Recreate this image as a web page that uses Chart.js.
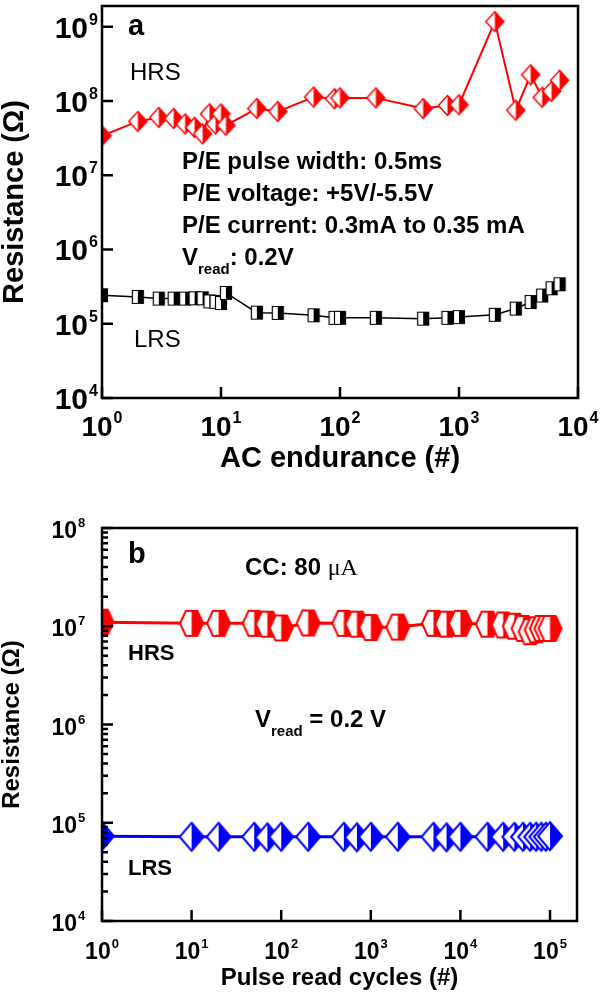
<!DOCTYPE html>
<html>
<head>
<meta charset="utf-8">
<script src="https://cdn.jsdelivr.net/npm/chart.js@4.4.1/dist/chart.umd.min.js"></script>
<style>
html, body { margin: 0; padding: 0; background: #fff; }
#wrap { position: relative; width: 600px; height: 994px; }
canvas { position: absolute; left: 0; }
#chartA { top: 0; }
#chartB { top: 497px; }
</style>
</head>
<body>
<div id="wrap">
    <canvas id="chartA" width="600" height="497"></canvas>
    <canvas id="chartB" width="600" height="497"></canvas>
</div>
<script>
// panel a - AC endurance
const cyclesA = [1, 2, 3, 4, 5, 6, 7, 8, 9, 10, 11, 20, 30, 60, 90, 100, 200, 500, 800, 1000, 2000, 3000, 4000, 5000, 6000, 7000];
const hrsA = [3.4e7, 5.3e7, 6.0e7, 5.8e7, 4.9e7, 4.4e7, 3.6e7, 6.7e7, 4.9e7, 6.7e7, 4.7e7, 7.9e7, 7.2e7, 1.13e8, 1.07e8, 1.1e8, 1.1e8, 7.9e7, 8.7e7, 8.9e7, 1.17e9, 7.5e7, 2.25e8, 1.12e8, 1.35e8, 1.9e8];
const lrsA = [2.42e5, 2.3e5, 2.18e5, 2.18e5, 2.18e5, 2.2e5, 2.2e5, 2.0e5, 1.97e5, 1.9e5, 2.6e5, 1.41e5, 1.4e5, 1.3e5, 1.2e5, 1.2e5, 1.2e5, 1.17e5, 1.2e5, 1.23e5, 1.32e5, 1.6e5, 1.96e5, 2.4e5, 3.0e5, 3.4e5];
const aXExps = [0, 1, 2, 3, 4];
const aYExps = [4, 5, 6, 7, 8, 9];

// panel b - pulse read
const cyclesB = [1, 10, 20, 50, 70, 100, 200, 500, 700, 1000, 2000, 5000, 7000, 1e4, 2e4, 3e4, 4e4, 5e4, 6e4, 7e4, 8e4, 9e4, 1e5];
const hrsB = [1.1e7, 1.07e7, 1.07e7, 1.07e7, 1.05e7, 9.6e6, 1.08e7, 1.07e7, 1.05e7, 9.7e6, 9.8e6, 1.07e7, 1.05e7, 1.07e7, 1.05e7, 1.03e7, 1.0e7, 9.5e6, 8.8e6, 9.2e6, 9.5e6, 9.5e6, 9.5e6];
const lrsB = [7.3e4, 7.2e4, 7.2e4, 7.2e4, 7.1e4, 7.2e4, 7.2e4, 7.2e4, 7.1e4, 7.2e4, 7.2e4, 7.2e4, 7.1e4, 7.2e4, 7.2e4, 7.2e4, 7.2e4, 7.2e4, 7.2e4, 7.2e4, 7.2e4, 7.2e4, 7.3e4];
const bXExps = [0, 1, 2, 3, 4, 5];
const bYExps = [4, 5, 6, 7, 8];

const FONT = '"Liberation Sans", Arial, sans-serif';
const SERIF = '"Liberation Serif", "Times New Roman", serif';

// half filled markers: left half white, right half coloured
function makeMarker(shape, w, h, color, lw) {
    const c = document.createElement('canvas');
    c.width = Math.ceil(w + lw * 2);
    c.height = Math.ceil(h + lw * 2);
    const g = c.getContext('2d');
    const cx = c.width / 2, cy = c.height / 2;
    const path = () => {
        g.beginPath();
        if (shape === 'diamond') {
            g.moveTo(cx, cy - h / 2); g.lineTo(cx + w / 2, cy);
            g.lineTo(cx, cy + h / 2); g.lineTo(cx - w / 2, cy);
        } else if (shape === 'square') {
            g.rect(cx - w / 2, cy - h / 2, w, h);
        } else {
            g.moveTo(cx - w / 2, cy); g.lineTo(cx - w / 4, cy - h / 2);
            g.lineTo(cx + w / 4, cy - h / 2); g.lineTo(cx + w / 2, cy);
            g.lineTo(cx + w / 4, cy + h / 2); g.lineTo(cx - w / 4, cy + h / 2);
        }
        g.closePath();
    };
    path(); g.fillStyle = '#fff'; g.fill();
    g.save();
    g.beginPath(); g.rect(cx, 0, c.width, c.height); g.clip();
    path(); g.fillStyle = color; g.fill();
    g.restore();
    path(); g.strokeStyle = color; g.lineWidth = lw; g.lineJoin = 'miter'; g.stroke();
    return c;
}

function toPoints(xs, ys) {
    return xs.map((x, i) => ({ x: x, y: ys[i] }));
}

function drawSup(ctx, base, sup, x, y, baseFont, supFont, raise, align) {
    ctx.font = baseFont;
    const bw = ctx.measureText(base).width;
    ctx.font = supFont;
    const sw = ctx.measureText(sup).width;
    let x0 = x;
    if (align === 'center') x0 = x - (bw + 1 + sw) / 2;
    if (align === 'right') x0 = x - bw;
    ctx.textAlign = 'left';
    ctx.font = baseFont;
    ctx.fillText(base, x0, y);
    ctx.font = supFont;
    ctx.fillText(sup, x0 + bw + 1, y - raise);
}

// frame, inward ticks, power-of-ten labels, annotations
const decor = {
    id: 'decor',
    afterDraw(chart, args, o) {
        const { ctx, chartArea: ca, scales: { x, y } } = chart;
        ctx.save();
        ctx.strokeStyle = '#000';
        ctx.fillStyle = '#000';
        ctx.lineWidth = o.tickWidth;
        ctx.beginPath();
        y.ticks.forEach(t => {
            const py = y.getPixelForValue(t.value);
            ctx.moveTo(ca.left, py); ctx.lineTo(ca.left + o.tickLen, py);
            if (o.minorY) {
                for (let m = 2; m < 10; m++) {
                    const v = t.value * m;
                    if (v > y.max) break;
                    const my = y.getPixelForValue(v);
                    ctx.moveTo(ca.left, my); ctx.lineTo(ca.left + o.minorLen, my);
                }
            }
        });
        x.ticks.forEach(t => {
            const px = x.getPixelForValue(t.value);
            ctx.moveTo(px, ca.bottom); ctx.lineTo(px, ca.bottom - o.tickLen);
        });
        ctx.stroke();

        ctx.lineWidth = o.frame;
        ctx.strokeRect(ca.left, ca.top, ca.right - ca.left, ca.bottom - ca.top);

        ctx.textBaseline = 'alphabetic';
        y.ticks.forEach(t => {
            const py = y.getPixelForValue(t.value);
            drawSup(ctx, '10', String(Math.round(Math.log10(t.value))), o.yLabelRight, py + o.yLabelDy,
                o.tickFont, o.supFont, o.raise, 'right');
        });
        x.ticks.forEach(t => {
            const px = x.getPixelForValue(t.value);
            drawSup(ctx, '10', String(Math.round(Math.log10(t.value))), px, ca.bottom + o.xLabelDy,
                o.xTickFont || o.tickFont, o.xSupFont || o.supFont, o.raise, 'center');
        });

        o.texts.forEach(s => {
            ctx.textAlign = 'left';
            let cx = s.x;
            s.parts.forEach(p => {
                ctx.font = p.font;
                ctx.fillText(p.text, cx, s.y + (p.dy || 0));
                cx += ctx.measureText(p.text).width + (p.gap || 0);
            });
        });
        ctx.restore();
    }
};

function makeChart(id, cfg) {
    const logTicks = exps => scale => { scale.ticks = exps.map(e => ({ value: Math.pow(10, e) })); };
    return new Chart(document.getElementById(id).getContext('2d'), {
        type: 'line',
        data: { datasets: cfg.datasets },
        options: {
            responsive: false,
            animation: false,
            devicePixelRatio: 1,
            layout: { padding: cfg.padding },
            plugins: { legend: { display: false }, tooltip: { enabled: false }, decor: cfg.decor },
            scales: {
                x: {
                    type: 'logarithmic', min: cfg.xMin, max: cfg.xMax,
                    grid: { display: false }, border: { display: false },
                    ticks: { display: false },
                    afterBuildTicks: logTicks(cfg.xExps),
                    afterFit: s => { s.height = cfg.xHeight; },
                    title: { display: true, text: cfg.xTitle, color: '#000', font: cfg.xTitleFont, padding: cfg.xTitlePad }
                },
                y: {
                    type: 'logarithmic', min: cfg.yMin, max: cfg.yMax,
                    grid: { display: false }, border: { display: false },
                    ticks: { display: false },
                    afterBuildTicks: logTicks(cfg.yExps),
                    afterFit: s => { s.width = 102; },
                    title: { display: true, text: 'Resistance (\u03A9)', color: '#000', font: cfg.yTitleFont, padding: { top: 0, bottom: 0 } }
                }
            }
        },
        plugins: [decor]
    });
}

const b24 = 'bold 24px ' + FONT;

makeChart('chartA', {
    datasets: [
        { data: toPoints(cyclesA, hrsA), borderColor: '#ff0000', borderWidth: 2, pointStyle: makeMarker('diamond', 18, 20, '#ff0000', 1.5), tension: 0 },
        { data: toPoints(cyclesA, lrsA), borderColor: '#000', borderWidth: 1.5, pointStyle: makeMarker('square', 11, 13, '#000', 1.2), tension: 0 }
    ],
    padding: { left: 0, top: 2, right: 22, bottom: 0 },
    xMin: 1, xMax: 1e4, yMin: 1e4, yMax: 1.9e9,
    xExps: aXExps, yExps: aYExps,
    xHeight: 99,
    xTitle: 'AC endurance (#)',
    xTitleFont: { family: FONT, size: 29, weight: 'bold', lineHeight: 1 },
    xTitlePad: { top: 0, bottom: 24 },
    yTitleFont: { family: FONT, size: 29, weight: 'bold', lineHeight: 1 },
    decor: {
        frame: 2.5, tickWidth: 2.5, tickLen: 11, minorY: false,
        tickFont: 'bold 30px ' + FONT, supFont: 'bold 16px ' + FONT, raise: 13,
        xTickFont: 'bold 28px ' + FONT, xSupFont: 'bold 16px ' + FONT,
        yLabelRight: 88, yLabelDy: 11, xLabelDy: 38,
        texts: [
            { x: 128, y: 35, parts: [{ text: 'a', font: 'bold 29px ' + FONT }] },
            { x: 130, y: 80, parts: [{ text: 'HRS', font: '24px ' + FONT }] },
            { x: 182, y: 169, parts: [{ text: 'P/E pulse width: 0.5ms', font: b24 }] },
            { x: 182, y: 201, parts: [{ text: 'P/E voltage: +5V/-5.5V', font: b24 }] },
            { x: 182, y: 233, parts: [{ text: 'P/E current: 0.3mA to 0.35 mA', font: b24 }] },
            { x: 182, y: 265, parts: [
                { text: 'V', font: b24 },
                { text: 'read', font: 'bold 15px ' + FONT, dy: 9 },
                { text: ': 0.2V', font: b24 }
            ] },
            { x: 134, y: 347, parts: [{ text: 'LRS', font: '24px ' + FONT }] }
        ]
    }
});

makeChart('chartB', {
    datasets: [
        { data: toPoints(cyclesB, hrsB), borderColor: '#ff0000', borderWidth: 3, pointStyle: makeMarker('hexagon', 23, 25, '#ff0000', 2), tension: 0 },
        { data: toPoints(cyclesB, lrsB), borderColor: '#0000ff', borderWidth: 3, pointStyle: makeMarker('diamond', 24, 28, '#0000ff', 2), tension: 0 }
    ],
    padding: { left: 0, top: 31, right: 23, bottom: 0 },
    xMin: 1, xMax: 2e5, yMin: 1e4, yMax: 1e8,
    xExps: bXExps, yExps: bYExps,
    xHeight: 73,
    xTitle: 'Pulse read cycles (#)',
    xTitleFont: { family: FONT, size: 24, weight: 'bold', lineHeight: 1 },
    xTitlePad: { top: 0, bottom: 4 },
    yTitleFont: { family: FONT, size: 24, weight: 'bold', lineHeight: 1 },
    decor: {
        frame: 2.5, tickWidth: 2.5, tickLen: 11, minorY: true, minorLen: 6,
        tickFont: 'bold 23px ' + FONT, supFont: 'bold 13px ' + FONT, raise: 11,
        yLabelRight: 77, yLabelDy: 10, xLabelDy: 38,
        texts: [
            { x: 128, y: 66, parts: [{ text: 'b', font: 'bold 29px ' + FONT }] },
            { x: 245, y: 78, parts: [
                { text: 'CC: 80 ', font: b24 },
                { text: '\u03BCA', font: '24px ' + SERIF }
            ] },
            { x: 128, y: 163, parts: [{ text: 'HRS', font: 'bold 22px ' + FONT }] },
            { x: 255, y: 230, parts: [
                { text: 'V', font: b24 },
                { text: 'read', font: 'bold 15px ' + FONT, dy: 9 },
                { text: ' = 0.2 V', font: b24 }
            ] },
            { x: 128, y: 378, parts: [{ text: 'LRS', font: 'bold 22px ' + FONT }] }
        ]
    }
});
</script>
</body>
</html>
